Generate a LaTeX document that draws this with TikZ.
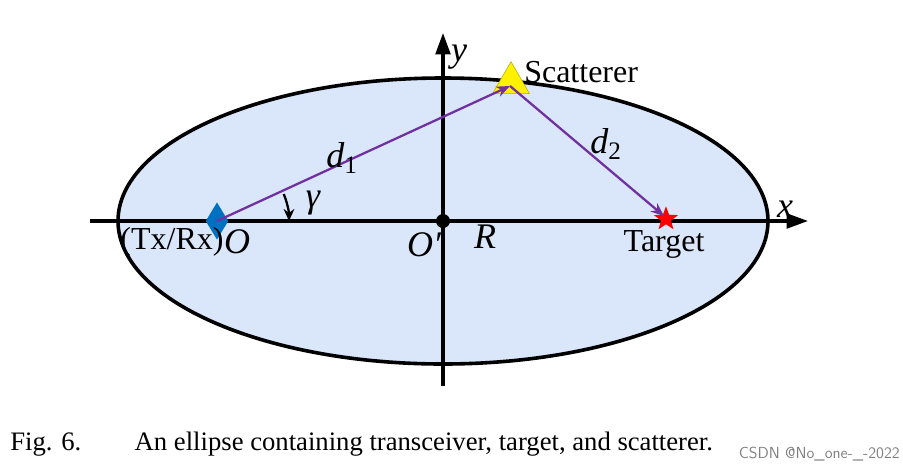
\documentclass[tikz,border=0pt]{standalone}
\usepackage{fontspec}
\setmainfont{Liberation Serif}
\usetikzlibrary{shapes.geometric,shapes.misc,arrows.meta}
\begin{document}
\begin{tikzpicture}[x=0.75pt,y=-0.75pt,
  axis/.style={line width=2.4pt,-{Triangle[length=16pt,width=11pt]}},
  ray/.style={draw={rgb,255:red,112;green,48;blue,160},line width=1.7pt,-{Stealth[length=10pt,width=8pt]}},
  lbl/.style={font=\fontsize{24}{24}\selectfont,inner sep=0pt},
  ilbl/.style={font=\fontsize{27}{27}\selectfont\itshape,inner sep=0pt}]
\useasboundingbox (0,0) rectangle (903,469);
\fill[fill={rgb,255:red,218;green,230;blue,250}] (443,221) ellipse [x radius=325,y radius=143];
\draw[line width=2.7pt] (443,221) ellipse [x radius=325,y radius=143];
\coordinate (xs) at (90,221); \coordinate (xe) at (808,221);
\coordinate (ys) at (443,386); \coordinate (ye) at (443,33);
\draw[axis] (xs) -- (xe);
\draw[axis] (ys) -- (ye);
\fill (443,221) circle (7);
\node[diamond,fill={rgb,255:red,0;green,112;blue,192},minimum width=17pt,minimum height=28pt,inner sep=0pt] (tx) at (217,221) {};
\node[regular polygon,regular polygon sides=3,fill=yellow,draw={rgb,255:red,190;green,170;blue,0},minimum size=32pt,inner sep=0pt] (sc) at (511,83) {};
\coordinate (sp) at (510,86);
\node[star,star points=5,star point ratio=2.4,fill=red,minimum size=19pt,inner sep=0pt] (tg) at (666,219) {};
\coordinate (tp) at (664,216);
\draw[ray] (tx.center) -- (sp);
\draw[ray] (sp) -- (tp);
\draw[line width=1.7pt,-{Stealth[length=9pt,width=8pt]}] (217,221) ++(-22:72) arc (-22:0:72);
\node[lbl,anchor=west] (st) at (524,72) {Scatterer};
\node[lbl] (tt) at (664,244) {Target};
\node[lbl] (trx) at (172,242) {(Tx/Rx)};
\node[ilbl] (o) at (237,242) {O};
\node[ilbl] (op) at (424,245) {O′};
\node[ilbl] (r) at (485,237) {R};
\node[ilbl] (g) at (313,203) {γ};
\node[ilbl] (d1) at (342,158) {d\textsubscript{\upshape 1}};
\node[ilbl] (d2) at (606,144) {d\textsubscript{\upshape 2}};
\node[ilbl] (xl) at (785,209) {x};
\node[ilbl] (yl) at (459,57) {y};
\node[font=\fontsize{20}{20}\selectfont,anchor=west,inner sep=0pt] (cap) at (10,444) {Fig. 6.\hspace{2em}An ellipse containing transceiver, target, and scatterer.};
\node[font=\sffamily\fontsize{12}{12}\selectfont,text=gray,anchor=east,inner sep=0pt] (wm) at (900,454) {CSDN @No\_one-\_-2022};
\end{tikzpicture}
\end{document}
